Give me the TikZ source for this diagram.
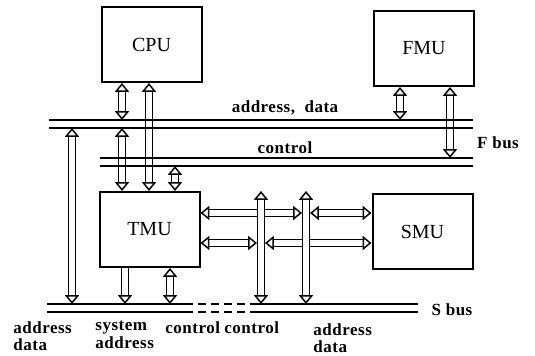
\documentclass[tikz,border=0pt]{standalone}
\usepackage{fontspec}
\setmainfont{Liberation Serif}
\newfontfamily\lblfont{Liberation Serif}[LetterSpace=3]
\usetikzlibrary{arrows.meta}

\tikzset{
  unit/.style={draw, line width=1pt, minimum width=50pt, minimum height=37.5pt,
               font=\fontsize{10}{11}\selectfont},
  busline/.style={line width=1pt},
  tip/.tip={Triangle[fill=white, line width=0.75pt, length=4.4pt, width=7pt]},
  dbl/.style={double, double distance=2.6pt, line width=0.75pt, tip-tip},
  sgl/.style={double, double distance=2.6pt, line width=0.75pt, -tip},
  lbl/.style={font=\lblfont\bfseries\fontsize{8.5}{8.7}\selectfont, inner sep=0pt},
}

\begin{document}
\begin{tikzpicture}[x=0.5pt, y=-0.5pt]
  \useasboundingbox (0,0) rectangle (535,356);
  % units
  \node[unit] (cpu) at (151.5,44.5) {CPU};
  \node[unit] (fmu) at (424,48.5) {FMU};
  \node[unit] (tmu) at (149.5,229.5) {TMU};
  \node[unit] (smu) at (422.5,232) {SMU};
  % bus lines and arrow columns
  \coordinate (adA) at (49,120);
  \coordinate (adB) at (49,128);
  \coordinate (ctA) at (100,158);
  \coordinate (ctB) at (100,166);
  \coordinate (sbA) at (47,304);
  \coordinate (sbB) at (47,312);
  \coordinate (fEnd) at (473,0);
  \coordinate (sEnd) at (418,0);
  \coordinate (gapL) at (185,0);
  \coordinate (gapR) at (252,0);
  \coordinate (xL) at (72,0);
  \coordinate (xC1) at (122,0);
  \coordinate (xC2) at (149,0);
  \coordinate (xC3) at (175,0);
  \coordinate (xF1) at (400,0);
  \coordinate (xF2) at (450,0);
  \coordinate (xT1) at (125,0);
  \coordinate (xT2) at (170,0);
  \coordinate (xV1) at (261,0);
  \coordinate (xV2) at (306,0);
  \coordinate (yR1) at (0,213);
  \coordinate (yR2) at (0,243);
  % F bus connections
  \draw[dbl] (cpu.south -| xC1) -- (xC1 |- adA);
  \draw[dbl] (tmu.north -| xC2) -- (cpu.south -| xC2);
  \draw[dbl] (xC1 |- adB) -- (tmu.north -| xC1);
  \draw[dbl] (xC3 |- ctB) -- (tmu.north -| xC3);
  \draw[dbl] (xL |- adB) -- (xL |- sbA);
  \draw[dbl] (fmu.south -| xF1) -- (xF1 |- adA);
  \draw[dbl] (fmu.south -| xF2) -- (xF2 |- ctA);
  % S bus connections
  \draw[sgl] (tmu.south -| xT1) -- (xT1 |- sbA);
  \draw[dbl] (tmu.south -| xT2) -- (xT2 |- sbA);
  \draw[dbl, shorten >=2pt] (tmu.east |- yR1) -- (xV2 |- yR1);
  \draw[dbl, shorten <=2pt] (xV2 |- yR1) -- (smu.west |- yR1);
  \draw[dbl, shorten >=2pt] (tmu.east |- yR2) -- (xV1 |- yR2);
  \draw[dbl, shorten <=2pt] (xV1 |- yR2) -- (smu.west |- yR2);
  \draw[dbl] (tmu.north -| xV1) -- (xV1 |- sbA);
  \draw[dbl] (tmu.north -| xV2) -- (xV2 |- sbA);
  % buses
  \draw[busline] (adA) -- (adA -| fEnd);
  \draw[busline] (adB) -- (adB -| fEnd);
  \draw[busline] (ctA) -- (ctA -| fEnd);
  \draw[busline] (ctB) -- (ctB -| fEnd);
  \draw[busline] (sbA) -- (sbA -| gapL);
  \draw[busline, dash pattern=on 4pt off 2.5pt] (sbA -| gapL) -- (sbA -| gapR);
  \draw[busline] (sbA -| gapR) -- (sbA -| sEnd);
  \draw[busline] (sbB) -- (sbB -| gapL);
  \draw[busline, dash pattern=on 4pt off 2.5pt] (sbB -| gapL) -- (sbB -| gapR);
  \draw[busline] (sbB -| gapR) -- (sbB -| sEnd);
  % labels
  \node[lbl] (adLbl) at (285,108) {address,\ \ data};
  \node[lbl] (ctLbl) at (285,148) {control};
  \node[lbl] (fLbl) at (498,143) {F bus};
  \node[lbl] (sLbl) at (452,310) {S bus};
  \node[lbl, align=left, anchor=north west] (adSys) at (13,321) {address\\data};
  \node[lbl, align=left, anchor=north west] (sysAd) at (95,321) {system\\address};
  \node[lbl, anchor=north west] (ctTmu) at (165,321) {control};
  \node[lbl, anchor=north west] (ctSmu) at (224,321) {control};
  \node[lbl, align=left, anchor=north west] (adSmu) at (313,323) {address\\data};
\end{tikzpicture}
\end{document}
